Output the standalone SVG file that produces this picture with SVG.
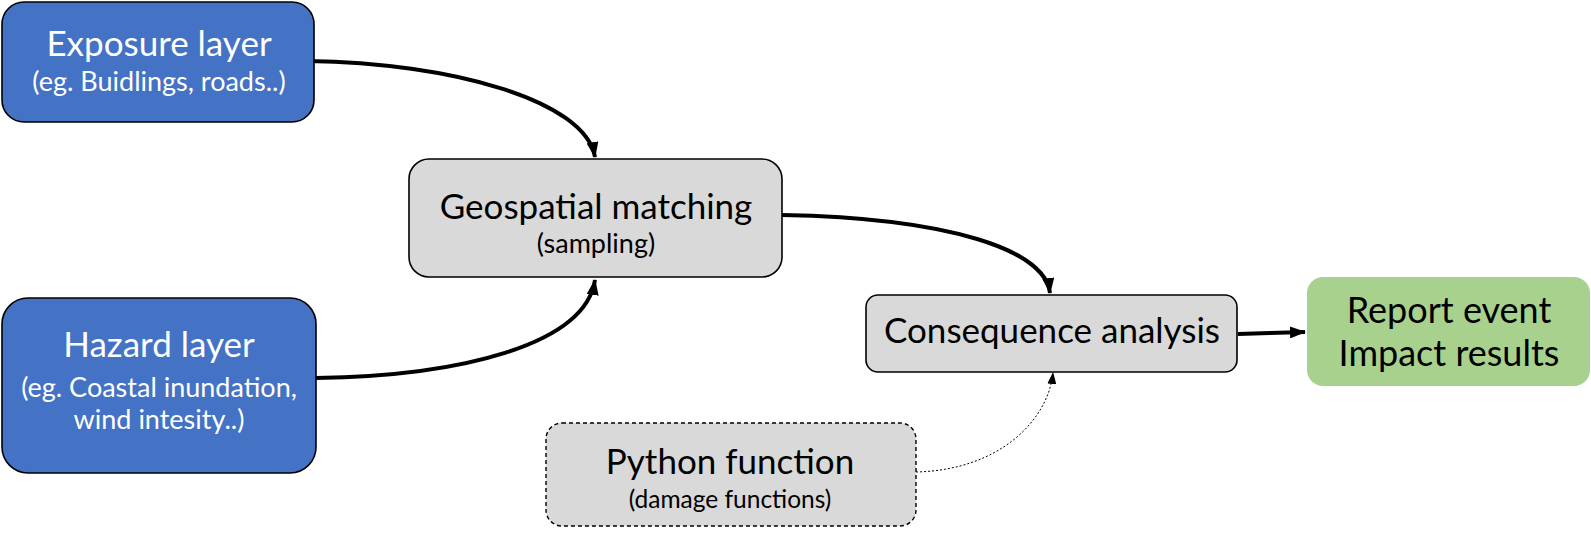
<svg xmlns="http://www.w3.org/2000/svg" width="1591" height="533" viewBox="0 0 1591 533">
<style>
.box{stroke:#000;stroke-width:1.6}
.blue{fill:#4472C4}
.gray{fill:#D9D9D9}
.green{fill:#A9D18E}
.t{font-family:Lato,"Open Sans","Liberation Sans",sans-serif;text-anchor:middle}
.big{font-size:35px}
.small{font-size:27px}
.w{fill:#fff}
.k{fill:#000}
.c{fill:none;stroke:#000;stroke-width:4}
.d{fill:none;stroke:#000;stroke-width:1;stroke-dasharray:2 2}
</style>
<defs>
<marker id="ah" markerUnits="userSpaceOnUse" markerWidth="16" markerHeight="12" refX="15" refY="6" orient="auto">
<path d="M0,0 L16,6 L0,12 z" fill="#000"/>
</marker>
<marker id="ahs" markerUnits="userSpaceOnUse" markerWidth="12" markerHeight="9" refX="11" refY="4.5" orient="auto">
<path d="M0,0 L12,4.5 L0,9 z" fill="#000"/>
</marker>
</defs>
<g id="connectors">
<path class="c" d="M308,61 C450,63 585,100 595,157" marker-end="url(#ah)"/>
<path class="c" d="M316,378 C460,376 585,345 595,280" marker-end="url(#ah)"/>
<path class="c" d="M782,215 C950,218 1045,250 1050,293" marker-end="url(#ah)"/>
<path class="c" d="M1238,334 L1270,333 L1305,332" marker-end="url(#ah)"/>
<path class="d" d="M916,472 C1000,470 1048,420 1053,373" marker-end="url(#ahs)"/>
</g>
<g id="exposure">
<rect class="box blue" x="2" y="2" width="312" height="120" rx="22"/>
<text class="t big w" x="159" y="56">Exposure layer</text>
<text class="t small w" x="159" y="91">(eg. Buidlings, roads..)</text>
</g>
<g id="hazard">
<rect class="box blue" x="2" y="298" width="314" height="175" rx="26"/>
<text class="t big w" x="159" y="357">Hazard layer</text>
<text class="t small w" x="159" y="397">(eg. Coastal inundation,</text>
<text class="t small w" x="159" y="429">wind intesity..)</text>
</g>
<g id="geospatial">
<rect class="box gray" x="409" y="159" width="373" height="118" rx="20"/>
<text class="t big k" x="596" y="219">Geospatial matching</text>
<text class="t small k" x="596" y="253">(sampling)</text>
</g>
<g id="consequence">
<rect class="box gray" x="866" y="295" width="371" height="77" rx="12"/>
<text class="t big k" x="1052" y="343">Consequence analysis</text>
</g>
<g id="report">
<rect class="green" x="1307" y="277" width="283" height="109" rx="16"/>
<text class="t k" style="font-size:36px" x="1449" y="323">Report event</text>
<text class="t k" style="font-size:36px" x="1449" y="366">Impact results</text>
</g>
<g id="python">
<rect class="gray" x="546" y="423" width="370" height="103" rx="16" stroke="#000" stroke-width="1.4" stroke-dasharray="4 3"/>
<text class="t big k" x="730" y="474">Python function</text>
<text class="t k" style="font-size:24.5px" x="730" y="508">(damage functions)</text>
</g>
</svg>
